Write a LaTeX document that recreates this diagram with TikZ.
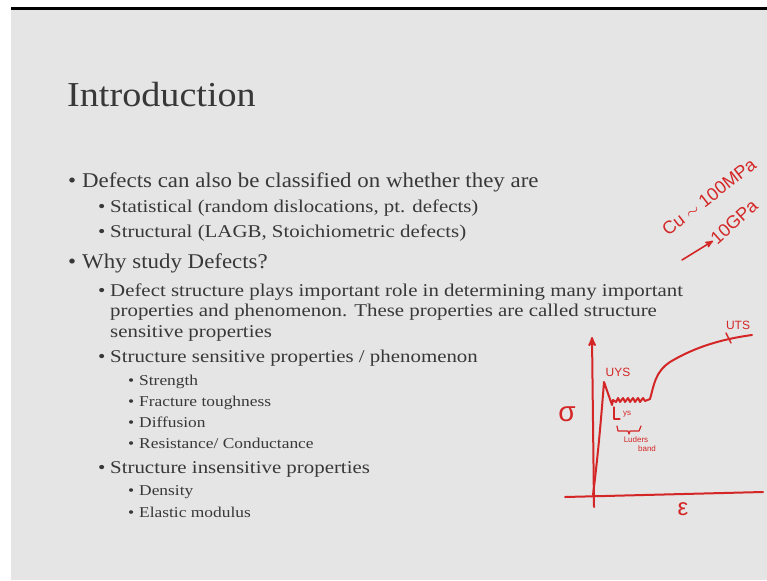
\documentclass[tikz,border=0pt]{standalone}
\usepackage{fontspec}
\setmainfont{Liberation Serif}[FakeStretch=1.09]
\newfontfamily\bodywide{Liberation Serif}[FakeStretch=1.16]
\newfontfamily\handfont{Liberation Sans}
\usetikzlibrary{positioning,arrows}

\definecolor{slidegray}{HTML}{E5E5E5}
\definecolor{inkgray}{HTML}{383838}
\definecolor{penred}{HTML}{D42626}
\newcommand{\dotl}[1]{\llap{\makebox[#1][l]{\textbullet}}}

\begin{document}
\begin{tikzpicture}[x=1pt, y=-1pt,
                title/.style={anchor=base west, inner sep=0pt, text=inkgray, font=\fontsize{35}{35}\selectfont},
                lvlone/.style={anchor=base west, inner sep=0pt, text=inkgray, font=\fontsize{21}{21}\selectfont},
                lvltwo/.style={anchor=base west, inner sep=0pt, text=inkgray, align=left, font=\bodywide\fontsize{18}{20.5}\selectfont},
                lvlthree/.style={anchor=base west, inner sep=0pt, text=inkgray, font=\bodywide\fontsize{15}{15}\selectfont},
                ink/.style={draw=penred, line width=2pt, line cap=round, line join=round},
                scrawl/.style={inner sep=0pt, text=penred, font=\handfont}
            ]
            \useasboundingbox (0,0) rectangle (767,580);
            \fill[white] (0,0) rectangle (767,580);
            \fill[slidegray] (11,10) rectangle (767,580);
            \fill[black] (11,7.5) rectangle (767,10);

            % slide text
            \node (Title) [title] at (67,107) {Introduction};
            \node (Item01) [lvlone] at (82,187) {\dotl{14pt}Defects can also be classified on whether they are};
            \node (Item02) [lvltwo] at (110,212) {\dotl{12pt}Statistical (random dislocations, pt. defects)};
            \node (Item03) [lvltwo] at (110,237) {\dotl{12pt}Structural (LAGB, Stoichiometric defects)};
            \node (Item04) [lvlone] at (82,268) {\dotl{14pt}Why study Defects?};
            \node (Item05) [lvltwo] at (110,337) {\dotl{12pt}Defect structure plays important role in determining many important\\
                properties and phenomenon. These properties are called structure\\
                sensitive properties};
            \node (Item06) [lvltwo] at (110,362) {\dotl{12pt}Structure sensitive properties / phenomenon};
            \node (Item07) [lvlthree] at (139,385) {\dotl{11pt}Strength};
            \node (Item08) [lvlthree] at (139,406) {\dotl{11pt}Fracture toughness};
            \node (Item09) [lvlthree] at (139,427) {\dotl{11pt}Diffusion};
            \node (Item10) [lvlthree] at (139,448) {\dotl{11pt}Resistance/ Conductance};
            \node (Item11) [lvltwo] at (110,473) {\dotl{12pt}Structure insensitive properties};
            \node (Item12) [lvlthree] at (139,495) {\dotl{11pt}Density};
            \node (Item13) [lvlthree] at (139,517) {\dotl{11pt}Elastic modulus};

            % handwritten note
            \node (NoteCu) [scrawl, rotate=38, font=\handfont\fontsize{18}{18}\selectfont] at (709,197) {Cu $\sim$ 100MPa};
            \node (NoteGPa) [scrawl, rotate=42, font=\handfont\fontsize{18}{18}\selectfont] at (734,222) {10GPa};
            \coordinate (ArrTail) at (682,260);
            \draw[ink, line width=1.6pt, ->, >=stealth'] (ArrTail) -- (NoteGPa.west);

            % stress-strain sketch
            \coordinate (Origin) at (593,495);
            \coordinate (YTop) at (592,337);
            \coordinate (YBot) at (594,507);
            \coordinate (XLeft) at (565,497);
            \coordinate (XRight) at (763,492);
            \draw[ink, ->, >=stealth'] (YBot) -- (YTop);
            \draw[ink] (XLeft) -- (XRight);
            \draw[ink] (Origin) .. controls (598,455) and (601,420) .. (604,382)
                -- (612,405) -- (613,400) -- (616,402) -- (618,398) -- (620,402) -- (623,398)
                -- (625,402) -- (628,398) -- (630,402) -- (633,398) -- (635,402) -- (638,398)
                -- (640,402) -- (643,398) -- (645,401) -- (650,399)
                .. controls (654,385) and (655,372) .. (670,362)
                .. controls (690,350) and (715,340) .. (752,335);
            \draw[ink, line width=1.4pt] (726,333) -- (731,343);
            \draw[ink, line width=1.2pt] (614,407) -- (614,419) -- (620,419);
            \draw[ink, line width=1.2pt] (617,426) -- (618,431) -- (628,431) -- (629,434) -- (630,431) -- (639,431) -- (641,426);
            \node (LabUYS) [scrawl, font=\handfont\fontsize{12}{12}\selectfont] at (618,372) {UYS};
            \node (LabLYS) [scrawl, font=\handfont\fontsize{8}{8}\selectfont] at (627,414) {ys};
            \node (LabLud) [scrawl, font=\handfont\fontsize{8}{8}\selectfont] at (636,440) {Luders};
            \node (LabBand) [scrawl, font=\handfont\fontsize{8}{8}\selectfont] at (647,449) {band};
            \node (LabUTS) [scrawl, font=\handfont\fontsize{12}{12}\selectfont] at (738,325) {UTS};
            \node (LabSig) [scrawl, font=\handfont\fontsize{28}{28}\selectfont] at (567,414) {σ};
            \node (LabEps) [scrawl, font=\handfont\fontsize{24}{24}\selectfont] at (683,509) {ε};
\end{tikzpicture}
\end{document}
